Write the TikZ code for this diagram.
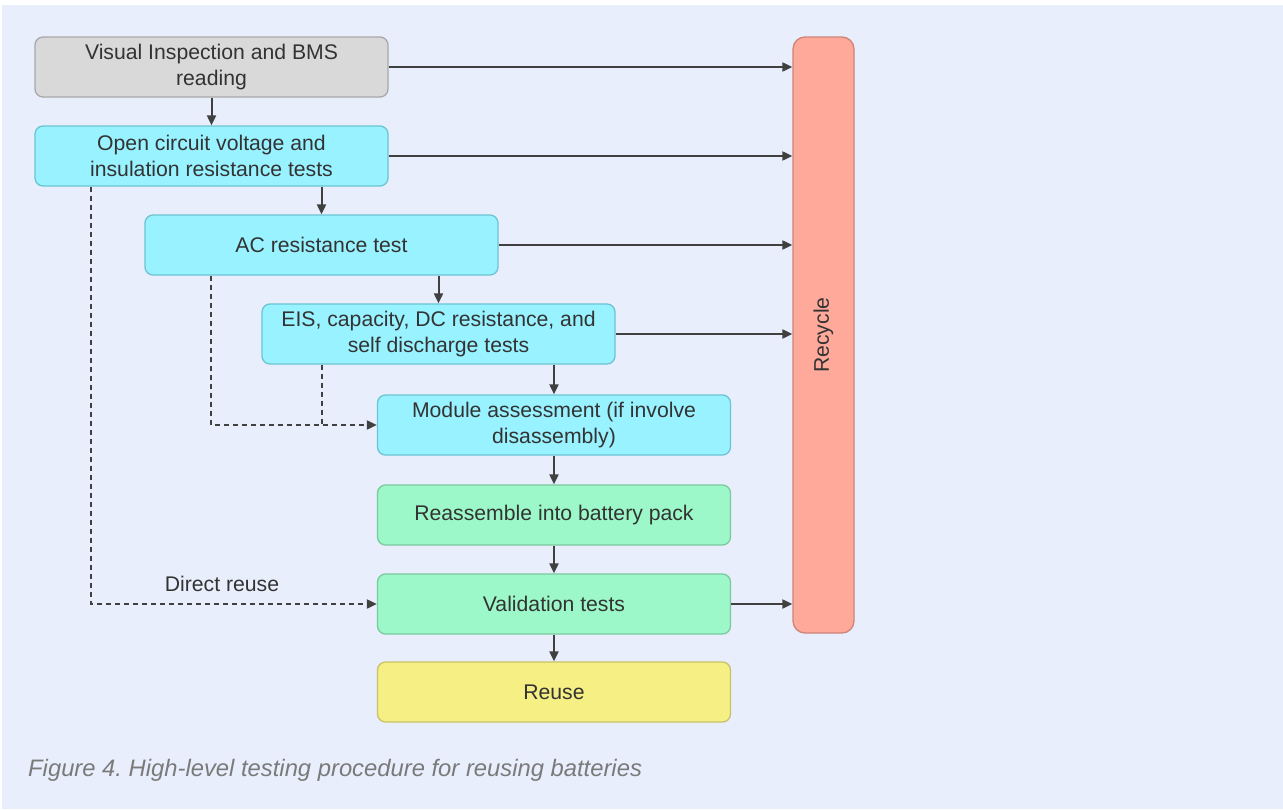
\documentclass[tikz,border=0pt]{standalone}
\usepackage{fontspec}
\setmainfont{Liberation Sans}
\usetikzlibrary{arrows.meta}
\frenchspacing

\definecolor{pagebg}{HTML}{E8EEFC}
\definecolor{ink}{HTML}{333333}
\definecolor{linec}{HTML}{404040}
\definecolor{grayfill}{HTML}{D9D9D9}
\definecolor{grayline}{HTML}{A8A8A8}
\definecolor{cyanfill}{HTML}{99F2FF}
\definecolor{cyanline}{HTML}{6CC4D2}
\definecolor{greenfill}{HTML}{9CF8C8}
\definecolor{greenline}{HTML}{7CC9A0}
\definecolor{yellowfill}{HTML}{F5EF84}
\definecolor{yellowline}{HTML}{C8C26A}
\definecolor{salmonfill}{HTML}{FFA99B}
\definecolor{salmonline}{HTML}{CF8478}
\definecolor{captionc}{HTML}{7A7A7A}

\begin{document}
\begin{tikzpicture}[x=1pt,y=-1pt,
  box/.style={draw, line width=1.3pt, rounded corners=8pt, inner sep=0pt,
    minimum width=353pt, minimum height=60pt, align=center, text=ink,
    font=\fontsize{21.2}{25.5}\selectfont},
  graybox/.style={box, fill=grayfill, draw=grayline},
  cyanbox/.style={box, fill=cyanfill, draw=cyanline},
  greenbox/.style={box, fill=greenfill, draw=greenline},
  yellowbox/.style={box, fill=yellowfill, draw=yellowline},
  recbox/.style={draw=salmonline, fill=salmonfill, line width=1.3pt,
    rounded corners=12pt, inner sep=0pt},
  arr/.style={draw=linec, line width=2pt,
    -{Triangle[length=10pt,width=9pt]}},
  dasharr/.style={arr, dash pattern=on 5pt off 4pt},
  dashline/.style={draw=linec, line width=2pt, dash pattern=on 5pt off 4pt},
  lbl/.style={text=ink, font=\fontsize{21.2}{25.5}\selectfont, inner sep=0pt}
]
\useasboundingbox (0,0) rectangle (1283,809);
\fill[white] (0,0) rectangle (1283,809);
\fill[pagebg] (2,5) rectangle (1283,809);

% process steps
\node[graybox]   (vis) at (211.5,67)  {Visual Inspection and BMS\\reading};
\node[cyanbox]   (ocv) at (211.5,156) {Open circuit voltage and\\insulation resistance tests};
\node[cyanbox]   (ac)  at (321.5,245) {AC resistance test};
\node[cyanbox]   (eis) at (438.5,334) {EIS, capacity, DC resistance, and\\self discharge tests};
\node[cyanbox]   (mod) at (554,425)   {Module assessment (if involve\\disassembly)};
\node[greenbox]  (rea) at (554,515)   {Reassemble into battery pack};
\node[greenbox]  (val) at (554,604)   {Validation tests};
\node[yellowbox] (reu) at (554,692)   {Reuse};

% recycle bar
\node[recbox, minimum width=61pt, minimum height=596pt] (rec) at (823.5,335) {};
\node[lbl, rotate=90] (rect) at (rec.center) {Recycle};

% main flow
\draw[arr] (vis.south) -- (ocv.north);
\draw[arr] (ac.north |- ocv.south) -- (ac.north);
\draw[arr] (eis.north |- ac.south) -- (eis.north);
\draw[arr] (mod.north |- eis.south) -- (mod.north);
\draw[arr] (mod.south) -- (rea.north);
\draw[arr] (rea.south) -- (val.north);
\draw[arr] (val.south) -- (reu.north);

% failures go to recycling
\draw[arr] (vis.east) -- (vis.east -| rec.west);
\draw[arr] (ocv.east) -- (ocv.east -| rec.west);
\draw[arr] (ac.east)  -- (ac.east -| rec.west);
\draw[arr] (eis.east) -- (eis.east -| rec.west);
\draw[arr] (val.east) -- (val.east -| rec.west);

% shortcuts
\draw[dasharr] ([xshift=57pt]ocv.south west) |- (val.west);
\draw[dasharr] ([xshift=67pt]ac.south west) |- (mod.west);
\draw[dashline] ([xshift=61pt]eis.south west) -- ([xshift=61pt]eis.south west |- mod.west);
\node[lbl] (dr) at (222,584) {Direct reuse};

% caption
\node[anchor=west, inner sep=0pt, text=captionc,
  font=\fontsize{23.8}{28}\selectfont\itshape] (cap) at (28,770)
  {Figure 4. High-level testing procedure for reusing batteries};
\end{tikzpicture}
\end{document}
